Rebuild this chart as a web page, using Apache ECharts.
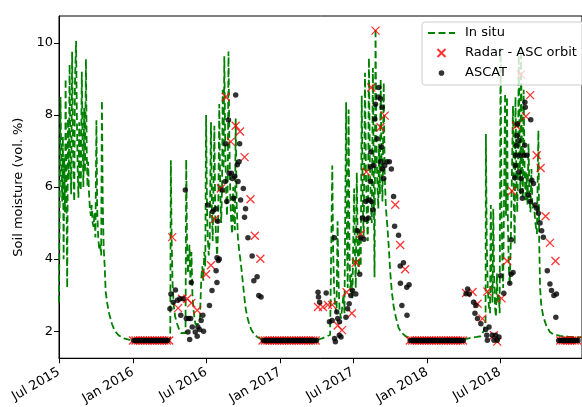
<!DOCTYPE html>
<html><head><meta charset="utf-8">
<script src="https://cdn.jsdelivr.net/npm/echarts@6/dist/echarts.min.js"></script>
<style>html,body{margin:0;padding:0;background:#fff}#c{width:582px;height:407px}</style>
</head><body><div id="c"></div>
<script>
// x values: days since 1 Jul 2015
const tickDays = [0, 184, 366, 550, 731, 915, 1096];
const tickLabels = ['Jul 2015', 'Jan 2016', 'Jul 2016', 'Jan 2017', 'Jul 2017', 'Jan 2018', 'Jul 2018'];
const yTicks = [2, 4, 6, 8, 10];
const seriesNames = ['In situ', 'Radar - ASC orbit', 'ASCAT'];

const inSitu = [
[0,2.8],[3.7,8.5],[6.1,6.5],[8.1,5.6],[9.6,7.4],[11.5,4.0],[13.0,6.8],[15.0,5.3],[16.4,9.0],[18.4,6.0],[20.4,3.2],[22.3,7.9],[24.3,6.2],[26.3,9.4],[28.2,7.0],[30.2,5.8],[32.6,9.75],[34.6,7.5],[36.6,6.0],[38.0,5.6],[39.5,8.8],[42.4,10.05],[44.4,8.0],[46.4,6.5],[48.3,5.7],[50.3,7.8],[52.3,6.2],[54.2,5.9],[56.7,9.2],[58.6,7.3],[60.6,6.0],[62.6,8.2],[64.5,6.4],[67.0,9.55],[68.9,7.0],[70.9,6.0],[72.4,6.7],[74.3,5.9],[76.8,5.4],[79.2,5.2],[81.2,5.5],[83.7,5.0],[86.1,4.9],[88.1,5.3],[90.5,4.6],[93.0,7.85],[94.9,5.4],[97.4,4.6],[99.9,4.3],[102.3,4.4],[104.8,4.1],[106.7,8.4],[108.7,5.6],[111.1,4.3],[113.6,3.8],[116.0,3.1],[119.5,2.8],[124.4,2.5],[131.7,2.2],[139.1,2.0],[148.9,1.88],[161.2,1.8],[175.9,1.76],
[276.5,1.78],[278.0,6.74],[279.9,4.6],[282.4,3.3],[285.3,2.7],[288.8,2.4],[293.7,2.2],[298.6,2.05],[303.5,1.95],[308.4,1.92],[314.5,1.95],[316.2,6.76],[318.2,4.5],[320.7,3.6],[324.3,4.4],[326.8,3.3],[329.2,4.2],[331.7,3.0],[334.2,2.6],[336.6,2.4],[339.1,2.2],[342.7,2.15],[346.4,2.2],[350.1,2.3],[353.8,3.5],[356.2,3.8],[358.7,3.4],[361.1,4.2],[363.6,3.8],[365.6,8.0],[367.8,5.5],[369.7,4.6],[372.2,4.1],[374.6,4.5],[377.8,7.8],[380.0,5.4],[382.0,4.5],[386.2,7.7],[388.4,5.2],[390.6,4.6],[393.0,4.1],[395.5,4.8],[398.4,8.3],[400.6,6.0],[403.1,5.0],[405.3,6.0],[407.0,8.7],[409.0,6.5],[410.9,9.63],[413.2,7.1],[415.4,5.9],[417.6,5.2],[419.5,6.2],[421.3,9.76],[423.5,7.2],[425.7,5.8],[428.1,5.0],[430.6,4.7],[433.0,6.0],[435.0,5.2],[437.2,4.8],[439.2,7.9],[441.4,5.6],[444.6,4.6],[448.2,4.2],[451.9,3.9],[455.6,3.5],[459.3,3.1],[463.0,2.7],[467.9,2.4],[472.8,2.2],[477.7,2.05],[485.0,1.92],[492.4,1.84],[502.2,1.78],[512.0,1.76],
[644.5,1.77],[654.3,1.8],[664.1,1.85],[673.9,1.9],[678.4,1.95],[679.3,6.6],[681.3,4.3],[683.8,3.2],[686.2,2.7],[689.9,2.5],[692.4,5.05],[694.8,3.4],[697.3,2.6],[701.0,2.35],[704.7,2.3],[707.1,3.0],[709.6,2.5],[712.0,2.5],[713.7,8.35],[715.7,4.5],[717.7,3.2],[719.9,8.15],[722.1,4.2],[724.3,3.1],[726.8,3.6],[729.2,2.9],[733.6,5.96],[735.8,4.0],[737.7,3.2],[740.2,6.4],[742.7,4.2],[745.1,3.6],[747.6,4.8],[750.0,3.8],[752.5,8.53],[754.9,5.6],[757.4,4.6],[760.6,9.17],[762.8,6.5],[765.2,5.1],[767.7,4.5],[770.4,9.58],[772.6,6.8],[775.0,5.6],[777.5,5.0],[780.2,9.3],[782.4,6.0],[784.3,3.5],[786.8,10.4],[788.8,7.4],[791.2,6.1],[793.7,5.4],[795.6,7.2],[797.6,5.8],[799.6,8.99],[801.8,6.6],[804.0,5.6],[807.2,8.9],[809.4,6.4],[812.6,5.4],[816.3,4.9],[819.9,4.3],[823.6,3.6],[827.3,3.1],[831.7,2.7],[837.1,2.4],[843.9,2.1],[850.6,1.97],[860.4,1.87],[872.7,1.79],[884.9,1.77],
[1012.5,1.79],[1026.5,1.82],[1038.8,1.84],[1048.6,1.86],[1055.4,2.0],[1060.3,2.3],[1061.1,7.47],[1063.3,4.4],[1065.7,3.2],[1068.4,2.7],[1071.4,2.5],[1073.3,5.5],[1075.6,3.5],[1077.5,2.8],[1079.5,5.4],[1081.7,3.4],[1084.2,2.6],[1086.1,2.4],[1088.6,3.6],[1090.5,2.8],[1093.0,3.0],[1095.4,2.5],[1097.6,9.86],[1099.8,5.5],[1102.0,4.0],[1104.0,3.2],[1108.9,8.6],[1111.1,5.2],[1113.6,8.5],[1115.8,5.0],[1118.0,3.8],[1120.4,3.3],[1122.9,4.4],[1128.5,8.25],[1130.7,5.5],[1132.7,4.4],[1134.6,8.5],[1136.8,6.3],[1139.0,5.3],[1141.0,6.5],[1142.8,9.8],[1145.0,7.0],[1146.9,5.8],[1148.4,9.8],[1150.6,7.0],[1152.8,5.7],[1155.0,8.7],[1157.2,6.6],[1159.7,5.6],[1162.1,6.4],[1164.6,5.5],[1167.0,7.2],[1169.5,5.7],[1171.9,5.3],[1174.4,6.5],[1176.8,5.4],[1180.5,5.5],[1184.2,5.0],[1187.9,4.7],[1191.6,7.57],[1193.6,4.5],[1195.8,3.2],[1199.0,2.7],[1203.9,2.4],[1211.3,2.15],[1220.3,1.98],[1228.4,1.92],[1244.9,1.87],[1265.2,1.85],[1282.4,1.84],[1302,1.83]
];

const radar = [
[184,1.74],[190,1.74],[196,1.74],[202,1.74],[208,1.74],[214,1.74],[220,1.74],[226,1.74],[232,1.74],[238,1.74],[244,1.74],[250,1.74],[256,1.74],[262,1.74],[268,1.74],[274,1.74],
[281.4,4.61],[296.1,2.64],[306.0,2.9],[318.9,2.9],[328.8,2.78],[343.5,2.58],[365.6,3.58],[377.8,3.83],[387.6,5.11],[402.4,5.96],[414.6,8.5],[426.9,7.26],[439.2,7.7],[450.0,7.54],[461.2,6.83],[476.0,5.66],[486.8,4.65],[500.5,4.01],
[506,1.74],[512,1.74],[518,1.74],[524,1.74],[530,1.74],[536,1.74],[542,1.74],[548,1.74],[554,1.74],[560,1.74],[566,1.74],[572,1.74],[578,1.74],[584,1.74],[590,1.74],[596,1.74],[602,1.74],[608,1.74],[614,1.74],[620,1.74],[626,1.74],[632,1.74],[638,1.74],
[643.8,2.67],[656,2.67],[668.3,2.73],[678.9,2.73],[692.8,2.16],[703.4,2.03],[714.9,3.08],[727.9,2.5],[737.7,3.9],[750,4.7],[764,6.42],[776.3,8.76],[786.8,10.34],[799.1,7.66],[809.6,7.98],[835.9,5.51],[848.1,4.39],[860.4,3.72],
[872,1.74],[878,1.74],[884,1.74],[890,1.74],[896,1.74],[902,1.74],[908,1.74],[914,1.74],[920,1.74],[926,1.74],[932,1.74],[938,1.74],[944,1.74],[950,1.74],[956,1.74],[962,1.74],[968,1.74],[974,1.74],[980,1.74],[986,1.74],[992,1.74],[998,1.74],[1004,1.74],
[1011.8,3.06],[1028,3.09],[1040.3,2.76],[1052.5,2.35],[1064.8,3.1],[1081.2,1.89],[1089.3,1.71],[1100,2.91],[1113.9,3.95],[1126.1,5.89],[1136.9,7.7],[1148.2,9.12],[1160.4,7.96],[1171.2,8.55],[1187.4,6.88],[1197.2,6.53],[1209.5,5.19],[1220.3,4.45],[1234,3.95],
[1246,1.74],[1252,1.74],[1258,1.74],[1264,1.74],[1270,1.74],[1276,1.74],[1282,1.74],[1288,1.74]
];

const ascat = [
[186,1.74],[190,1.74],[194,1.74],[198,1.74],[202,1.74],[206,1.74],[210,1.74],[214,1.74],[218,1.74],[222,1.74],[226,1.74],[230,1.74],[234,1.74],[238,1.74],[242,1.74],[246,1.74],[250,1.74],[254,1.74],[258,1.74],[262,1.74],[266,1.74],[270,1.74],
[275.8,2.62],[278.2,3.03],[283.9,2.8],[289.5,3.14],[294.4,2.86],[300.3,2.9],[302.7,2.44],[308.4,2.9],[314.0,5.92],[316.5,2.35],[320.7,1.98],[322.4,2.35],[324.8,1.77],[327.3,2.35],[328.8,3.35],[331.2,2.12],[338.6,1.98],[343.5,1.86],[345.2,2.12],[349.4,2.05],[353.3,2.3],[357.5,2.44],[359.2,2.0],
[369.7,5.5],[373.9,2.71],[380.3,3.13],[382.0,5.32],[390.1,5.4],[390.5,3.68],[392.6,3.35],[392.8,4.04],[394.3,5.05],[396.0,3.96],[398.4,4.0],[406.5,5.92],[413.2,6.15],[414.6,7.2],[417.1,5.6],[421.3,7.86],[423.0,6.38],[428.6,6.38],[431.1,6.24],[433.5,5.69],[436.7,6.3],[439.2,8.55],[443.3,6.62],[445.0,6.15],[447.5,6.7],[449.0,7.2],[451.4,5.64],[458.1,5.96],[461.2,5.16],[463.7,5.4],[469.6,4.59],[480.1,4.09],[484.3,3.4],[492.4,3.51],[496.6,2.99],[502.2,2.95],
[508,1.74],[512,1.74],[516,1.74],[520,1.74],[524,1.74],[528,1.74],[532,1.74],[536,1.74],[540,1.74],[544,1.74],[548,1.74],[552,1.74],[556,1.74],[560,1.74],[564,1.74],[568,1.74],[572,1.74],[576,1.74],[580,1.74],[584,1.74],[588,1.74],[592,1.74],[596,1.74],[600,1.74],[604,1.74],[608,1.74],[612,1.74],[616,1.74],[620,1.74],[624,1.74],[628,1.74],[632,1.74],[636,1.74],[640,1.74],
[643.8,3.08],[645.0,2.95],[647.7,2.8],[664.1,3.06],[672.2,2.26],[678.8,2.3],[684.5,4.59],[685.0,1.8],[687.0,1.71],[690.5,2.53],[692.8,2.35],[696.8,1.89],[697.2,2.26],[701.0,1.84],[713.2,2.39],[717.4,2.62],[721.3,2.76],[725.5,2.99],[729.6,3.13],[737.7,3.03],[741.9,4.79],[747.5,3.58],[750.0,4.59],[754.2,5.14],[758.1,4.55],[762.3,5.1],[762.8,5.6],[768.9,5.14],[770.4,5.64],[774.0,6.15],[774.5,6.56],[775.0,6.97],[777.0,5.6],[780.2,5.37],[782.6,6.6],[785.0,7.89],[786.8,8.3],[790.9,7.34],[793.4,8.5],[794.9,8.76],[799.1,8.45],[799.6,6.7],[801.6,7.11],[803.3,8.21],[803.8,6.5],[807.2,6.24],[809.6,6.6],[815.5,6.7],[821.2,6.7],[826.1,6.5],[831.7,5.74],[834.2,4.91],[844.0,4.66],[848.1,3.81],[848.6,3.33],[852.3,2.71],[856.2,3.9],[864.5,3.22],[865.0,2.44],[870.2,3.29],
[873,1.74],[877,1.74],[881,1.74],[885,1.74],[889,1.74],[893,1.74],[897,1.74],[901,1.74],[905,1.74],[909,1.74],[913,1.74],[917,1.74],[921,1.74],[925,1.74],[929,1.74],[933,1.74],[937,1.74],[941,1.74],[945,1.74],[949,1.74],[953,1.74],[957,1.74],[961,1.74],[965,1.74],[969,1.74],[973,1.74],[977,1.74],[981,1.74],[985,1.74],[989,1.74],[993,1.74],[997,1.74],[1001,1.74],[1005,1.74],
[1011.8,3.04],[1015.7,3.17],[1019.9,3.03],[1030.4,2.8],[1033.9,2.5],[1036.3,2.71],[1040.2,2.35],[1048.6,2.21],[1060.8,2.05],[1063.3,1.89],[1064.8,1.75],[1068.9,2.12],[1077.0,1.89],[1081.2,1.75],[1085.3,1.89],[1089.3,1.75],[1093.5,1.84],[1097.6,3.54],[1105.7,3.05],[1120.4,3.33],[1123.7,3.58],[1124.2,4.54],[1128.6,3.63],[1132.7,6.26],[1134.5,6.6],[1135.0,6.88],[1137.0,7.15],[1138.5,7.43],[1139.0,7.75],[1143.1,7.29],[1143.6,6.42],[1145.6,6.88],[1148.8,6.24],[1149.3,5.89],[1151.7,5.69],[1155.9,6.88],[1157.6,7.16],[1158.1,8.35],[1159.0,8.21],[1162.9,6.88],[1167.1,5.78],[1171.3,5.6],[1172.7,7.87],[1175.2,6.19],[1179.3,6.1],[1183.5,5.5],[1187.4,5.41],[1191.6,5.27],[1195.8,5.0],[1199.7,4.79],[1203.9,4.61],[1213.7,3.68],[1220.3,3.31],[1224.2,3.13],[1230.1,2.99],[1235.0,2.39],[1236.5,3.03],
[1242,1.74],[1246,1.74],[1250,1.74],[1254,1.74],[1258,1.74],[1262,1.74],[1266,1.74],[1270,1.74],[1274,1.74],[1278,1.74],[1282,1.74],[1286,1.74],[1290,1.74]
];

const FONT = 'DejaVu Sans';
const chart = echarts.init(document.getElementById('c'), null, {renderer: 'canvas'});
const xMark = 'path://M0,0L8,8M8,0L0,8';
const dotIcon = 'path://M0,0L0,0.001M8,8L8,8.001M4,1.2A2.8,2.8,0,1,1,4,6.8A2.8,2.8,0,1,1,4,1.2Z';

chart.setOption({
  animation: false,
  backgroundColor: '#fff',
  grid: {left: 59, top: 16, width: 530, height: 345.5, show: true, borderColor: '#000', borderWidth: 1, backgroundColor: 'transparent', containLabel: false},
  xAxis: {
    type: 'value', min: 0, max: 1300,
    axisLine: {show: true, onZero: false, lineStyle: {color: '#000', width: 1}},
    axisTick: {show: true, length: 5, customValues: tickDays, lineStyle: {color: '#000'}},
    axisLabel: {customValues: tickDays, rotate: 30, margin: 13, fontSize: 13, color: '#000', fontFamily: FONT,
      formatter: v => tickLabels[tickDays.indexOf(v)]},
    splitLine: {show: false}
  },
  yAxis: {
    type: 'value', min: 1.25, max: 10.745,
    name: 'Soil moisture (vol. %)', nameLocation: 'middle', nameGap: 33,
    nameTextStyle: {fontSize: 13, color: '#000', fontFamily: FONT},
    axisLine: {show: true, onZero: false, lineStyle: {color: '#000', width: 1}},
    axisTick: {show: true, length: 5, customValues: yTicks, lineStyle: {color: '#000'}},
    axisLabel: {customValues: yTicks, margin: 6, fontSize: 13, color: '#000', fontFamily: FONT},
    splitLine: {show: false}
  },
  legend: {
    orient: 'vertical', left: 422, top: 22,
    itemWidth: 27, itemHeight: 8, itemGap: 4,
    padding: [3, 20, 4, 5],
    backgroundColor: 'rgba(255,255,255,0.8)', borderColor: '#cccccc', borderWidth: 1, borderRadius: 3,
    textStyle: {fontSize: 13, fontFamily: FONT, color: '#000', lineHeight: 16, padding: [0, 0, 0, 5]},
    data: [
      {name: seriesNames[0], itemStyle: {opacity: 0, color: 'rgba(0,0,0,0)', borderWidth: 0}},
      {name: seriesNames[1]},
      {name: seriesNames[2], icon: dotIcon}
    ]
  },
  series: [
    {name: seriesNames[0], type: 'line', data: inSitu, symbol: 'none', showSymbol: false, z: 1,
     lineStyle: {color: '#008000', width: 1.8, type: [7, 3.5]}, itemStyle: {color: '#008000'}},
    {name: seriesNames[1], type: 'scatter', data: radar, symbol: xMark, symbolSize: 8, z: 2,
     itemStyle: {color: 'rgba(0,0,0,0)', borderColor: '#ff0000', borderWidth: 1.3}},
    {name: seriesNames[2], type: 'scatter', data: ascat, symbol: 'circle', symbolSize: 5.5, z: 3,
     itemStyle: {color: '#000000'}}
  ]
});
</script>
</body></html>
